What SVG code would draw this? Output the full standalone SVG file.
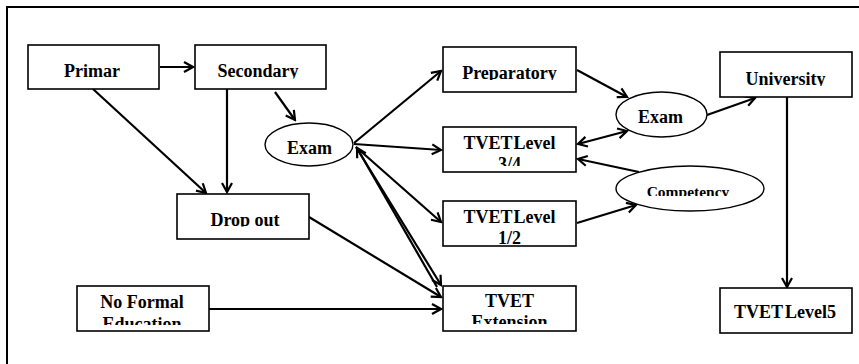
<svg xmlns="http://www.w3.org/2000/svg" width="859" height="364" viewBox="0 0 859 364">
<style>
.box{fill:#fff;stroke:#000;stroke-width:1.6}
.ell{fill:#fff;stroke:#000;stroke-width:1.4}
.t{font-family:"Liberation Serif","Times New Roman",serif;font-weight:bold;font-size:18px;text-anchor:middle;fill:#000}
.c{fill:none;stroke:#000;stroke-width:2.2}
.a{marker-end:url(#arr)}
.aa{marker-end:url(#arr);marker-start:url(#arrs)}
</style>
<defs>
<marker id="arr" markerUnits="userSpaceOnUse" markerWidth="14" markerHeight="14" viewBox="0 0 14 14" refX="12" refY="7" orient="auto">
<path d="M3,2 L12,7 L3,12" fill="none" stroke="#000" stroke-width="2.2"/>
</marker>
<marker id="arrs" markerUnits="userSpaceOnUse" markerWidth="14" markerHeight="14" viewBox="0 0 14 14" refX="12" refY="7" orient="auto-start-reverse">
<path d="M3,2 L12,7 L3,12" fill="none" stroke="#000" stroke-width="2.2"/>
</marker>
<clipPath id="cSec"><rect x="195" y="45" width="131" height="33.5"/></clipPath>
<clipPath id="cPrep"><rect x="443" y="47" width="133" height="33"/></clipPath>
<clipPath id="cUni"><rect x="720" y="52" width="132" height="34"/></clipPath>
<clipPath id="cT34"><rect x="443" y="127" width="133" height="39"/></clipPath>
<clipPath id="cExt"><rect x="443" y="286" width="133" height="38"/></clipPath>
<clipPath id="cNoF"><rect x="77" y="286" width="132" height="39"/></clipPath>
<clipPath id="cDrop"><rect x="177" y="194" width="132" height="32.5"/></clipPath>
<clipPath id="cComp"><rect x="616" y="166" width="150" height="30"/></clipPath>
</defs>
<rect x="7" y="7" width="900" height="400" fill="none" stroke="#000" stroke-width="2"/>
<g id="connectors">
<line class="c a" x1="160" y1="67" x2="193" y2="67"/>
<line class="c a" x1="275" y1="92" x2="295" y2="120"/>
<line class="c a" x1="93" y1="89" x2="206" y2="193"/>
<line class="c a" x1="227" y1="89" x2="227" y2="192"/>
<line class="c a" x1="354" y1="143" x2="441" y2="71"/>
<line class="c a" x1="354" y1="144" x2="441" y2="150"/>
<line class="c a" x1="356" y1="147" x2="441" y2="222"/>
<line class="c a" x1="356" y1="147" x2="441" y2="285"/>
<line class="c a" x1="437" y1="287" x2="357" y2="148"/>
<line class="c a" x1="309" y1="217" x2="441" y2="297"/>
<line class="c a" x1="209" y1="309" x2="441" y2="309"/>
<line class="c a" x1="577" y1="70" x2="627" y2="97"/>
<line class="c a" x1="707" y1="115" x2="755" y2="98"/>
<line class="c aa" x1="578" y1="144" x2="627" y2="131"/>
<line class="c a" x1="639" y1="172" x2="578" y2="159"/>
<line class="c a" x1="577" y1="223" x2="636" y2="205"/>
<line class="c a" x1="787" y1="97" x2="787" y2="287"/>
</g>
<g id="primary">
<rect class="box" x="28" y="45" width="131" height="44"/>
<text class="t" x="92" y="77">Primar</text>
</g>
<g id="secondary">
<rect class="box" x="195" y="45" width="131" height="44"/>
<text class="t" x="258" y="77" clip-path="url(#cSec)">Secondary</text>
</g>
<g id="exam1">
<ellipse class="ell" cx="309" cy="144.5" rx="44" ry="21.5"/>
<text class="t" x="309.5" y="154">Exam</text>
</g>
<g id="dropout">
<rect class="box" x="177" y="194" width="132" height="45"/>
<text class="t" x="245" y="226" clip-path="url(#cDrop)">Drop out</text>
</g>
<g id="noformal">
<rect class="box" x="77" y="286" width="132" height="45"/>
<text class="t" x="142" y="308" clip-path="url(#cNoF)">No Formal<tspan x="142" y="330">Education</tspan></text>
</g>
<g id="preparatory">
<rect class="box" x="443" y="47" width="133" height="45"/>
<text class="t" x="509.5" y="79" clip-path="url(#cPrep)">Preparatory</text>
</g>
<g id="tvet34">
<rect class="box" x="443" y="127" width="133" height="45"/>
<text class="t" x="509.5" y="148.5" clip-path="url(#cT34)" word-spacing="-3">TVET Level<tspan x="509.5" y="169.5">3/4</tspan></text>
</g>
<g id="tvet12">
<rect class="box" x="443" y="201" width="133" height="45"/>
<text class="t" x="509.5" y="222.5" word-spacing="-3">TVET Level<tspan x="509.5" y="243.5">1/2</tspan></text>
</g>
<g id="tvetext">
<rect class="box" x="443" y="286" width="133" height="45"/>
<text class="t" x="509.5" y="307" clip-path="url(#cExt)">TVET<tspan x="509.5" y="328">Extension</tspan></text>
</g>
<g id="exam2">
<ellipse class="ell" cx="661.5" cy="114.5" rx="45.5" ry="22.5"/>
<text class="t" x="660.5" y="123">Exam</text>
</g>
<g id="competency">
<ellipse class="ell" cx="690" cy="188.5" rx="74" ry="22.5"/>
<text class="t" x="688" y="197" style="font-size:15.5px" clip-path="url(#cComp)">Competency</text>
</g>
<g id="university">
<rect class="box" x="720" y="52" width="132" height="45"/>
<text class="t" x="785.5" y="85" clip-path="url(#cUni)">University</text>
</g>
<g id="tvet5">
<rect class="box" x="720" y="288" width="132" height="45"/>
<text class="t" x="785" y="318" word-spacing="-2">TVET Level5</text>
</g>
</svg>
